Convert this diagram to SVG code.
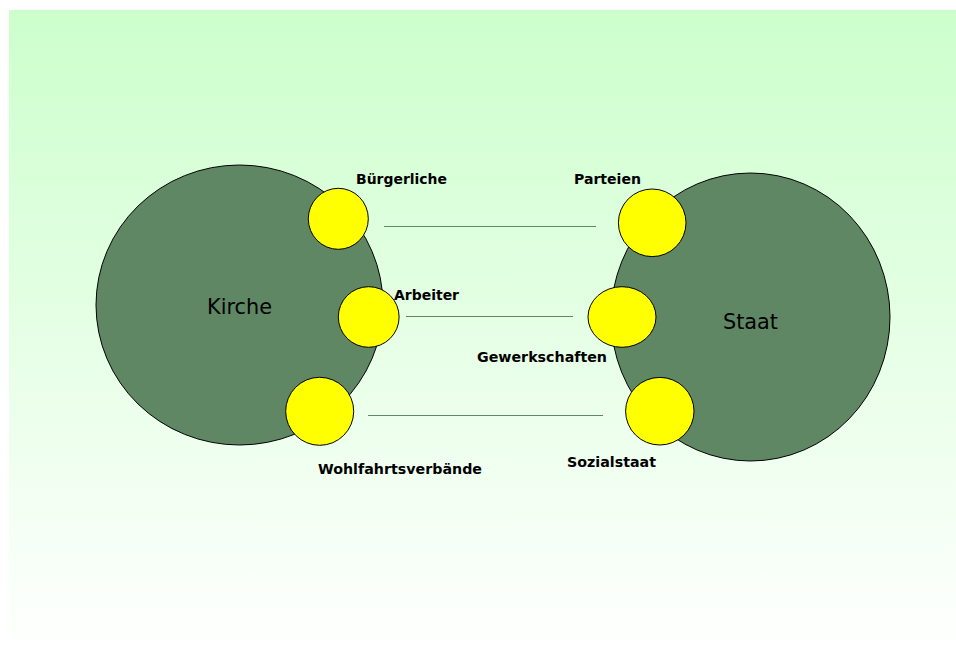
<svg xmlns="http://www.w3.org/2000/svg" width="956" height="655" viewBox="0 0 956 655">
<defs>
<linearGradient id="bg" x1="0" y1="0" x2="0" y2="1">
<stop offset="0" stop-color="#CCFFCC"/>
<stop offset="1" stop-color="#FFFFFF"/>
</linearGradient>
<style>
.big{fill:#5F8764;stroke:#000;stroke-width:1}
.small{fill:#FFFF00;stroke:#000;stroke-width:1}
.lbl{font-family:"DejaVu Sans",Verdana,sans-serif;font-weight:bold;font-size:14px;fill:#000}
.name{font-family:"DejaVu Sans",Verdana,sans-serif;font-size:21px;fill:#000}
.conn{stroke:#5F8764;stroke-width:1;fill:none}
</style>
</defs>
<rect x="0" y="0" width="956" height="655" fill="#FFFFFF"/>
<rect x="9" y="10" width="947" height="645" fill="url(#bg)"/>
<g id="kirche">
<ellipse class="big" cx="239.5" cy="305" rx="143.5" ry="140"/>
<text class="name" x="239.5" y="314" text-anchor="middle" textLength="65" lengthAdjust="spacingAndGlyphs">Kirche</text>
</g>
<g id="staat">
<ellipse class="big" cx="750.5" cy="317" rx="139.5" ry="144"/>
<text class="name" x="750.5" y="329" text-anchor="middle" textLength="55" lengthAdjust="spacingAndGlyphs">Staat</text>
</g>
<g id="connectors">
<line class="conn" x1="384" y1="226.5" x2="596" y2="226.5"/>
<line class="conn" x1="406" y1="316.5" x2="573" y2="316.5"/>
<line class="conn" x1="368" y1="415.5" x2="603" y2="415.5"/>
</g>
<g id="buergerliche">
<ellipse class="small" cx="338.3" cy="218.8" rx="30" ry="30.5"/>
<text class="lbl" x="356" y="183.5" textLength="91" lengthAdjust="spacingAndGlyphs">Bürgerliche</text>
</g>
<g id="arbeiter">
<ellipse class="small" cx="368.7" cy="317" rx="30.4" ry="30.3"/>
<text class="lbl" x="394" y="299.5" textLength="65" lengthAdjust="spacingAndGlyphs">Arbeiter</text>
</g>
<g id="wohlfahrtsverbaende">
<ellipse class="small" cx="319.7" cy="411.3" rx="34" ry="34"/>
<text class="lbl" x="318" y="473.5" textLength="164" lengthAdjust="spacingAndGlyphs">Wohlfahrtsverbände</text>
</g>
<g id="parteien">
<ellipse class="small" cx="652.2" cy="222.8" rx="33.8" ry="33.8"/>
<text class="lbl" x="574" y="183.5" textLength="67" lengthAdjust="spacingAndGlyphs">Parteien</text>
</g>
<g id="gewerkschaften">
<ellipse class="small" cx="622" cy="317" rx="34" ry="30.3"/>
<text class="lbl" x="477" y="361.5" textLength="130" lengthAdjust="spacingAndGlyphs">Gewerkschaften</text>
</g>
<g id="sozialstaat">
<ellipse class="small" cx="659.8" cy="411.2" rx="34.2" ry="33.8"/>
<text class="lbl" x="567" y="466.5" textLength="89" lengthAdjust="spacingAndGlyphs">Sozialstaat</text>
</g>
</svg>
